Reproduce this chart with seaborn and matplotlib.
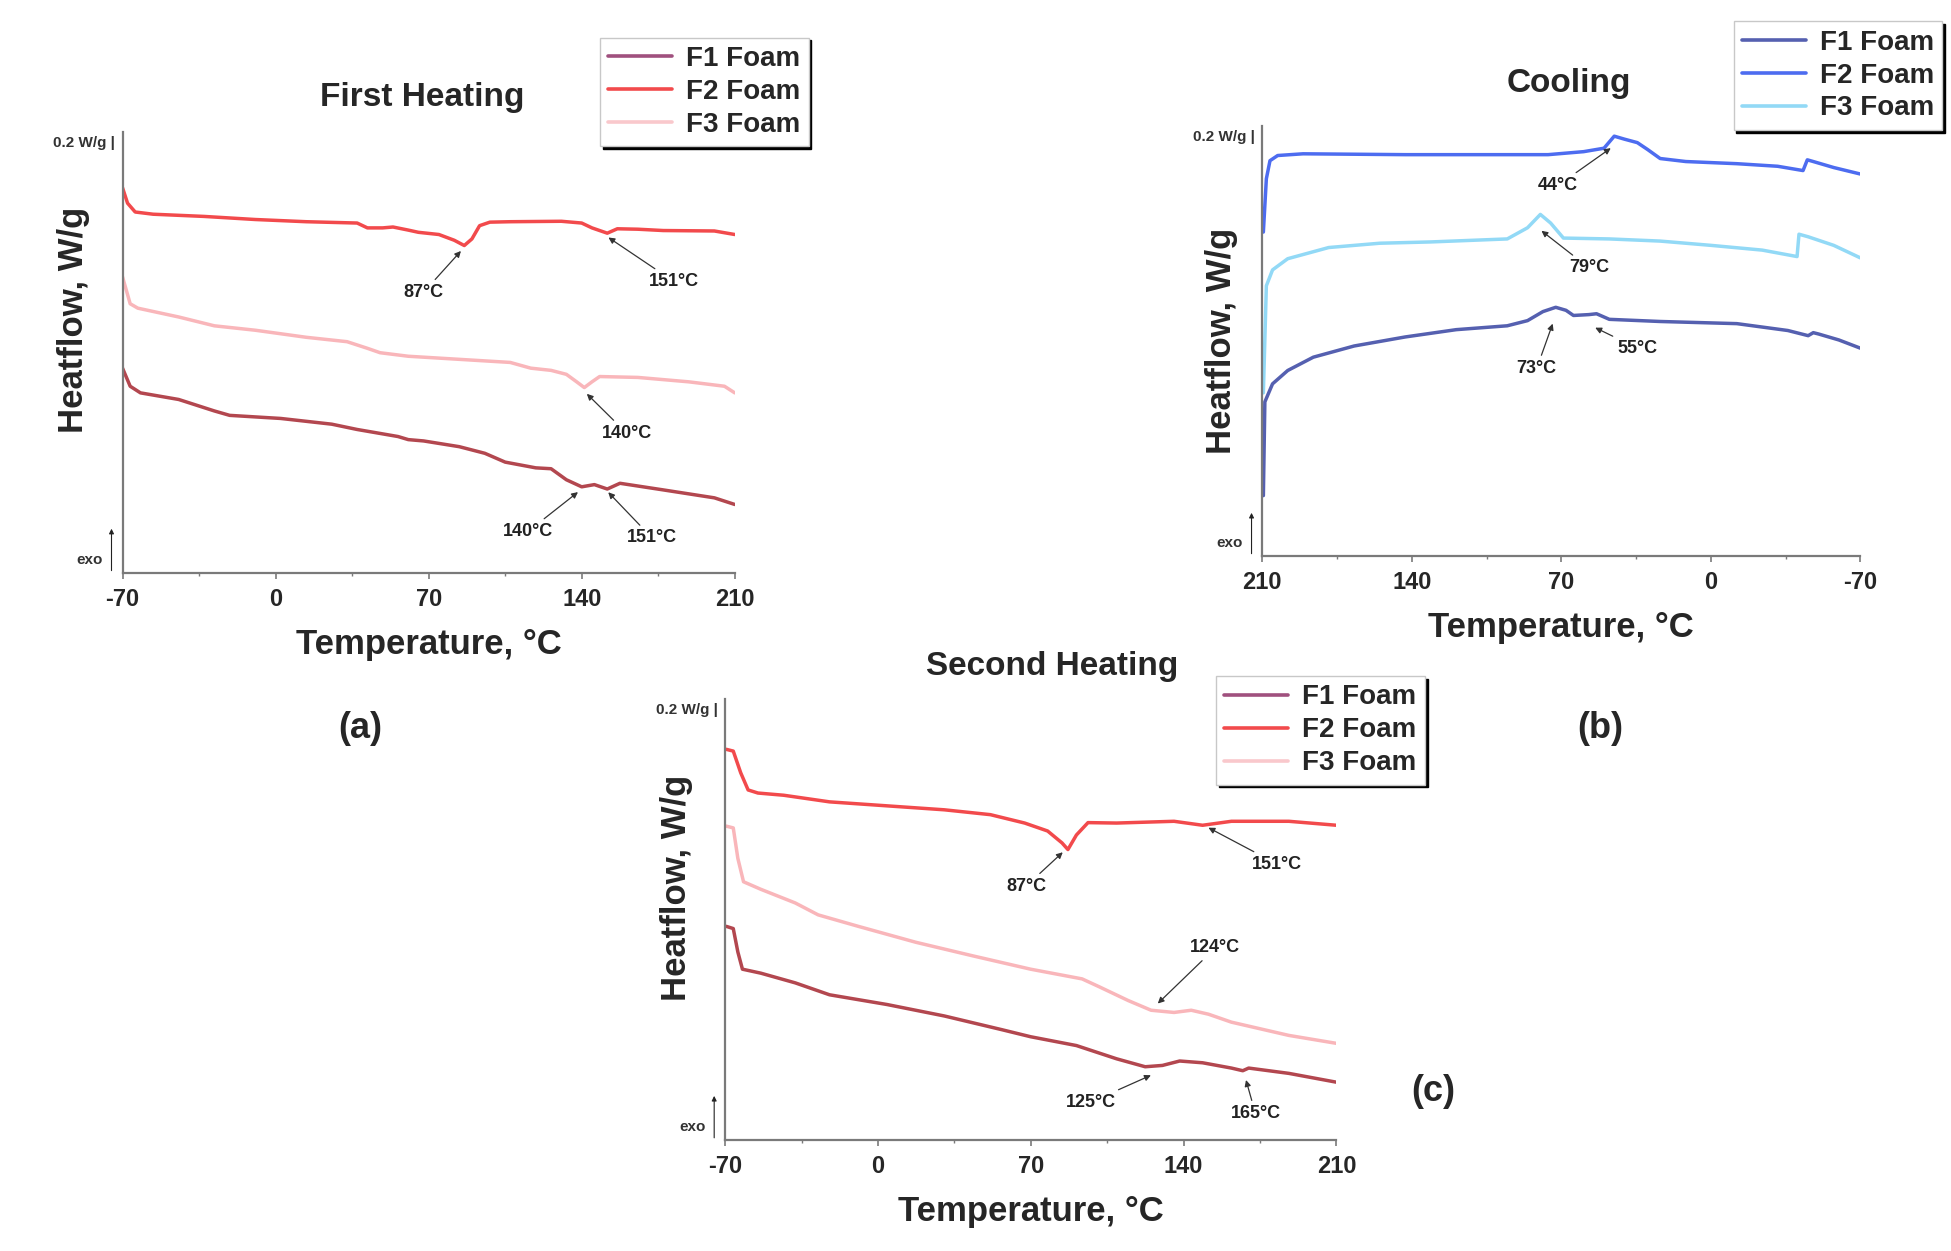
import numpy as np
import pandas as pd
import matplotlib
matplotlib.use("Agg")
import matplotlib.pyplot as plt
from matplotlib.lines import Line2D
from matplotlib.ticker import MultipleLocator
import seaborn as sns

# ------------------------------------------------------------
# data (heat flow in arbitrary, offset units)
# ------------------------------------------------------------
samples = ["F1 Foam", "F2 Foam", "F3 Foam"]
ticks = [-70, 0, 70, 140, 210]

# (a) first heating
t_a_f1 = [-70, -66.5, -61.8, -44.3, -28.0, -21.0, 2.3, 25.7, 37.3, 56.0, 60.7, 67.7, 84.0,
          95.7, 105.0, 119.0, 126.0, 133.0, 140.0, 145.8, 151.7, 157.5, 177.3, 200.7, 210]
hf_a_f1 = [0.464, 0.423, 0.408, 0.393, 0.367, 0.357, 0.350, 0.337, 0.325, 0.309, 0.302, 0.299, 0.286,
           0.271, 0.251, 0.238, 0.236, 0.211, 0.195, 0.200, 0.190, 0.203, 0.188, 0.170, 0.155]
t_a_f2 = [-70, -67.7, -64.2, -56.0, -32.7, -9.3, 14.0, 37.3, 42.0, 49.0, 53.7, 60.7, 65.3, 74.7,
          81.7, 86.3, 89.8, 93.3, 98.0, 107.3, 130.7, 140.0, 144.7, 151.7, 156.3, 165.7, 177.3, 200.7, 210]
hf_a_f2 = [0.873, 0.838, 0.818, 0.813, 0.808, 0.801, 0.796, 0.793, 0.782, 0.782, 0.784, 0.777, 0.772, 0.767,
           0.754, 0.742, 0.757, 0.787, 0.795, 0.796, 0.797, 0.793, 0.782, 0.770, 0.780, 0.779, 0.776, 0.775, 0.767]
t_a_f3 = [-70, -66.5, -63.0, -44.3, -28.0, -9.3, 14.0, 32.7, 42.0, 47.8, 60.7, 84.0, 107.3, 116.7,
          126.0, 133.0, 137.7, 141.2, 144.7, 148.2, 165.7, 189.0, 205.3, 210]
hf_a_f3 = [0.671, 0.610, 0.600, 0.580, 0.560, 0.550, 0.534, 0.524, 0.509, 0.499, 0.491, 0.484, 0.477, 0.464,
           0.459, 0.450, 0.433, 0.420, 0.433, 0.445, 0.443, 0.433, 0.423, 0.408]

# (b) cooling
t_b_f1 = [209.5, 208.8, 205.2, 198.1, 186.1, 167.0, 143.1, 119.2, 95.3, 85.8, 78.6, 72.6, 67.8, 64.3,
          57.1, 53.5, 47.5, 23.7, -12.2, -36.1, -45.6, -48.0, -50.4, -60.0, -70]
hf_b_f1 = [0.140, 0.358, 0.400, 0.431, 0.462, 0.488, 0.509, 0.526, 0.535, 0.547, 0.568, 0.578, 0.571, 0.559,
           0.561, 0.563, 0.550, 0.545, 0.540, 0.524, 0.512, 0.519, 0.516, 0.502, 0.483]
t_b_f2 = [209.5, 208.1, 206.4, 202.8, 190.9, 143.1, 76.2, 59.5, 50.0, 45.2, 40.4, 34.4, 29.6, 23.7,
          11.7, -12.2, -31.3, -43.2, -45.2, -48.0, -57.6, -70]
hf_b_f2 = [0.753, 0.877, 0.919, 0.931, 0.935, 0.933, 0.933, 0.940, 0.948, 0.976, 0.969, 0.961, 0.945, 0.924,
           0.917, 0.912, 0.906, 0.896, 0.921, 0.917, 0.903, 0.888]
t_b_f3 = [209.5, 208.1, 205.2, 198.1, 178.9, 155.0, 131.2, 95.3, 85.8, 79.8, 75.0, 69.0, 47.5, 23.7,
          -0.2, -24.1, -40.4, -41.3, -45.6, -57.6, -70]
hf_b_f3 = [0.379, 0.628, 0.665, 0.691, 0.717, 0.727, 0.730, 0.737, 0.763, 0.794, 0.774, 0.739, 0.737, 0.732,
           0.722, 0.711, 0.696, 0.748, 0.742, 0.722, 0.693]

# (c) second heating
t_c_f1 = [-69.5, -66.3, -64.2, -62.1, -53.7, -37.9, -22.2, 4.1, 30.4, 56.7, 69.9, 90.9, 109.3, 122.4,
          130.3, 138.2, 148.7, 161.9, 167.1, 169.8, 188.2, 210]
hf_c_f1 = [0.484, 0.479, 0.426, 0.387, 0.378, 0.356, 0.329, 0.307, 0.281, 0.250, 0.234, 0.214, 0.184, 0.166,
           0.169, 0.179, 0.175, 0.163, 0.157, 0.163, 0.151, 0.131]
t_c_f2 = [-69.5, -66.3, -62.9, -59.5, -55.0, -43.2, -22.2, 4.1, 30.4, 51.5, 67.2, 77.7, 84.3, 87.0,
          90.9, 96.2, 109.3, 135.6, 148.7, 161.9, 188.2, 210]
hf_c_f2 = [0.885, 0.881, 0.832, 0.793, 0.786, 0.781, 0.766, 0.757, 0.748, 0.737, 0.718, 0.700, 0.673, 0.658,
           0.691, 0.719, 0.718, 0.722, 0.713, 0.722, 0.722, 0.713]
t_c_f3 = [-69.5, -66.3, -64.2, -61.6, -53.7, -37.9, -27.4, -9.0, 17.3, 43.6, 69.9, 93.5, 101.4, 114.6,
          125.1, 135.6, 143.5, 151.4, 161.9, 188.2, 210]
hf_c_f3 = [0.711, 0.707, 0.638, 0.585, 0.568, 0.537, 0.510, 0.484, 0.448, 0.417, 0.387, 0.365, 0.347, 0.316,
           0.294, 0.289, 0.294, 0.285, 0.267, 0.237, 0.219]

# peak labels: (text, point T, point HF, text T, text HF)
notes_a = [("87°C", 85.2, 0.732, 67.7, 0.636), ("151°C", 151.7, 0.762, 182.0, 0.661),
           ("140°C", 141.9, 0.408, 160.5, 0.317), ("140°C", 138.8, 0.185, 115.5, 0.094),
           ("151°C", 151.7, 0.185, 172.2, 0.079)]
notes_b = [("44°C", 46.3, 0.950, 71.4, 0.862), ("79°C", 79.8, 0.758, 57.1, 0.670),
           ("73°C", 73.8, 0.543, 81.5, 0.436), ("55°C", 54.7, 0.532, 34.4, 0.483)]
notes_c = [("87°C", 85.1, 0.654, 67.8, 0.575), ("151°C", 150.8, 0.709, 182.9, 0.625),
           ("124°C", 127.7, 0.307, 154.5, 0.435), ("125°C", 125.6, 0.148, 97.5, 0.086),
           ("165°C", 168.4, 0.139, 172.9, 0.060)]

red_curves = {"F1 Foam": "#b3474f", "F2 Foam": "#f24a4c", "F3 Foam": "#f9b6ba"}
red_legend = {"F1 Foam": "#a0507e", "F2 Foam": "#f24a4c", "F3 Foam": "#f9c8cc"}
blue_curves = {"F1 Foam": "#5560b0", "F2 Foam": "#4d6cf0", "F3 Foam": "#92d9f6"}

sns.set_theme(style="white")
plt.rcParams["font.family"] = ["Liberation Sans", "DejaVu Sans"]
plt.rcParams["font.weight"] = "bold"
plt.rcParams["axes.labelweight"] = "bold"
plt.rcParams["axes.unicode_minus"] = False

NARROW = ["Liberation Sans Narrow", "Liberation Sans", "DejaVu Sans"]


def make_df(curves):
    rows = []
    for name, (t, hf) in zip(samples, curves):
        rows.append(pd.DataFrame({"T": t, "HF": hf, "sample": name}))
    return pd.concat(rows, ignore_index=True)


def draw_panel(ax, curves, colors, legend_colors, notes, reverse, ylab_xy, legend_xy):
    df = make_df(curves)
    sns.lineplot(data=df, x="T", y="HF", hue="sample", hue_order=samples,
                 palette=colors, sort=False, estimator=None, linewidth=2.5,
                 legend=False, ax=ax)
    ax.set_xlim((210, -70) if reverse else (-70, 210))
    ax.set_ylim(0, 1)
    ax.set_xticks(ticks)
    ax.xaxis.set_minor_locator(MultipleLocator(35))
    ax.set_yticks([])
    for s in ["top", "right"]:
        ax.spines[s].set_visible(False)
    for s in ["left", "bottom"]:
        ax.spines[s].set_color("#7a7a7a")
        ax.spines[s].set_linewidth(1.6)
    ax.tick_params(axis="x", which="major", direction="out", length=4, width=1.2,
                   color="#7a7a7a", labelsize=17, pad=7, bottom=True)
    ax.tick_params(axis="x", which="minor", direction="out", length=2.5, width=1,
                   color="#7a7a7a", bottom=True)
    ax.set_xlabel("Temperature, °C", fontsize=25, labelpad=12)
    ax.set_ylabel("Heatflow, W/g", fontsize=25)
    ax.yaxis.set_label_coords(*ylab_xy)

    # scale bar text and exo arrow
    ax.text(-0.012, 0.975, "0.2 W/g |", transform=ax.transAxes, ha="right", va="center",
            fontsize=11, color="#333333")
    ax.text(-0.032, 0.03, "exo", transform=ax.transAxes, ha="right", va="center",
            fontsize=11, color="#333333")
    ax.annotate("", xy=(-0.018, 0.10), xytext=(-0.018, 0.005), xycoords="axes fraction",
                arrowprops=dict(arrowstyle="-|>", color="#222222", lw=0.8,
                                mutation_scale=7, shrinkA=0, shrinkB=0))

    for label, px, py, tx, ty in notes:
        ax.annotate(label, xy=(px, py), xytext=(tx, ty), ha="center", va="center",
                    fontsize=13, family=NARROW, color="#222222",
                    arrowprops=dict(arrowstyle="-|>", color="#333333", lw=0.9,
                                    mutation_scale=9, shrinkA=1, shrinkB=1))

    handles = [Line2D([], [], color=legend_colors[s], lw=2.6) for s in samples]
    ax.legend(handles, samples, loc="upper left", bbox_to_anchor=legend_xy,
              bbox_transform=ax.figure.transFigure, fontsize=20, frameon=True,
              fancybox=False, shadow={"color": "black", "alpha": 1.0},
              edgecolor="#c8c8c8", framealpha=1, borderpad=0.3, labelspacing=0.25,
              handlelength=2.3, handletextpad=0.5, borderaxespad=0)


fig = plt.figure(figsize=(19.51, 12.51), dpi=100)
ax_a = fig.add_axes([0.0628, 0.5421, 0.3138, 0.3526])
ax_b = fig.add_axes([0.6470, 0.5557, 0.3065, 0.3437])
ax_c = fig.add_axes([0.3717, 0.0887, 0.3133, 0.3529])

draw_panel(ax_a, [(t_a_f1, hf_a_f1), (t_a_f2, hf_a_f2), (t_a_f3, hf_a_f3)],
           red_curves, red_legend, notes_a, False, (-0.053, 0.574), (0.3075, 0.970))
draw_panel(ax_b, [(t_b_f1, hf_b_f1), (t_b_f2, hf_b_f2), (t_b_f3, hf_b_f3)],
           blue_curves, blue_curves, notes_b, True, (-0.040, 0.5), (0.8886, 0.983))
draw_panel(ax_c, [(t_c_f1, hf_c_f1), (t_c_f2, hf_c_f2), (t_c_f3, hf_c_f3)],
           red_curves, red_legend, notes_c, False, (-0.053, 0.572), (0.6233, 0.4595))

fig.text(0.2165, 0.922, "First Heating", ha="center", va="center", fontsize=24)
fig.text(0.804, 0.933, "Cooling", ha="center", va="center", fontsize=24)
fig.text(0.5395, 0.467, "Second Heating", ha="center", va="center", fontsize=24)

fig.text(0.1845, 0.4175, "(a)", ha="center", va="center", fontsize=26)
fig.text(0.820, 0.4175, "(b)", ha="center", va="center", fontsize=26)
fig.text(0.7348, 0.1277, "(c)", ha="center", va="center", fontsize=26)

fig.savefig("out.png", dpi=100, facecolor="white")
